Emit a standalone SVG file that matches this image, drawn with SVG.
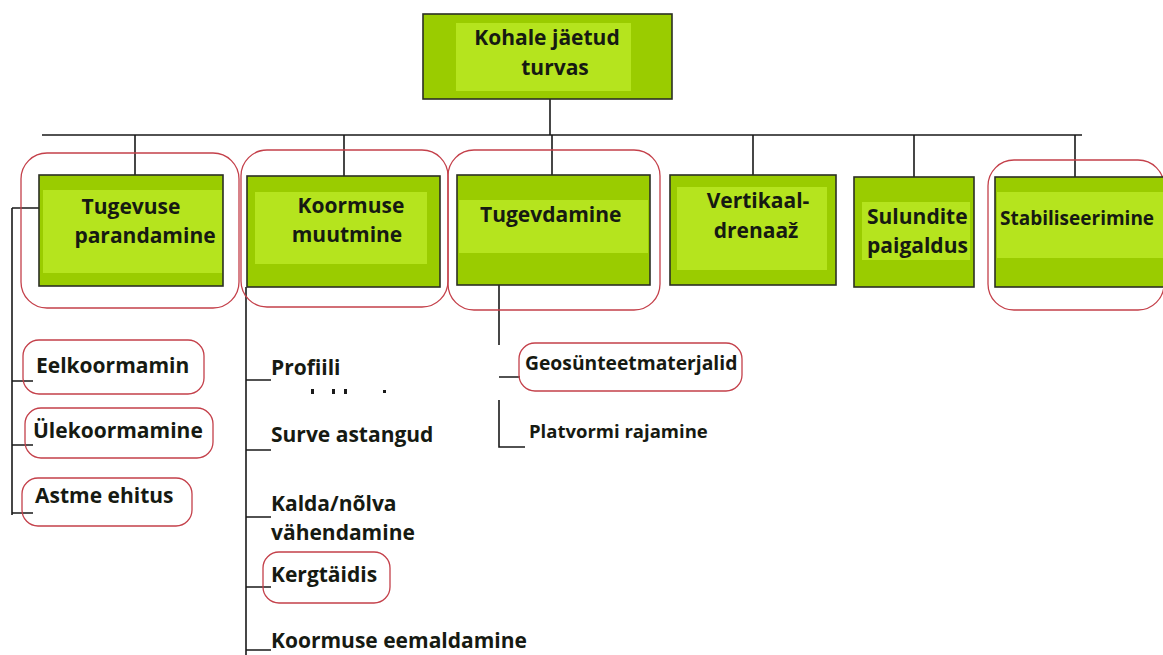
<svg xmlns="http://www.w3.org/2000/svg" width="1163" height="655" viewBox="0 0 1163 655">
<style>
.outer{fill:#9acc00;stroke:#2b2f24;stroke-width:1.6}
.inner{fill:#b5e41e}
.ring{fill:none;stroke:#c4404a;stroke-width:1.3}
.t{font-family:"Open Sans","Liberation Sans",sans-serif;font-weight:bold;font-size:21px;fill:#161a12}
.c{text-anchor:middle}
.ln{stroke:#1a1a1a;stroke-width:1.6;fill:none}
</style>
<rect width="1163" height="655" fill="#ffffff"/>
<g id="connectors" class="ln">
<path d="M550 99V135M42 135H1082M135 135V175M344 135V176M552 135V175M753 135V175M914 135V177M1075 135V177"/>
<path d="M12 208V515M12 208H39M12 381H33M12 445H33M12 513H33"/>
<path d="M246 287V655M246 380H271M246 450H271M246 517H271M246 587H271M246 650H271"/>
<path d="M499 285V345M499 377H520M499 400V447H525"/>
</g>
<g id="n-root">
<rect class="outer" x="423" y="14" width="249" height="85"/>
<rect class="inner" x="456" y="23" width="175" height="68"/>
<text class="t c" x="547" y="45">Kohale jäetud</text>
<text class="t c" x="555" y="75">turvas</text>
</g>
<g id="n-tugevuse">
<rect class="ring" x="21" y="153" width="218" height="155" rx="26"/>
<rect class="outer" x="39" y="175" width="184" height="111"/>
<rect class="inner" x="43" y="190" width="179" height="83"/>
<text class="t c" x="131" y="214">Tugevuse</text>
<text class="t c" x="145" y="243">parandamine</text>
</g>
<g id="n-koormuse">
<rect class="ring" x="241" y="150" width="207" height="157" rx="26"/>
<rect class="outer" x="247" y="176" width="193" height="111"/>
<rect class="inner" x="255" y="192" width="172" height="72"/>
<text class="t c" x="351" y="213">Koormuse</text>
<text class="t c" x="347" y="242">muutmine</text>
</g>
<g id="n-tugevdamine">
<rect class="ring" x="448" y="150" width="212" height="160" rx="26"/>
<rect class="outer" x="457" y="175" width="193" height="110"/>
<rect class="inner" x="459" y="200" width="189" height="53"/>
<text class="t" x="480" y="222">Tugevdamine</text>
</g>
<g id="n-vertikaal">
<rect class="outer" x="670" y="175" width="166" height="110"/>
<rect class="inner" x="677" y="187" width="150" height="83"/>
<text class="t c" x="758" y="208">Vertikaal-</text>
<text class="t c" x="756" y="238">drenaaž</text>
</g>
<g id="n-sulundite">
<rect class="outer" x="854" y="177" width="120" height="110"/>
<rect class="inner" x="862" y="202" width="108" height="58"/>
<text class="t" x="867" y="224">Sulundite</text>
<text class="t" x="867" y="253">paigaldus</text>
</g>
<g id="n-stabiliseerimine">
<rect class="ring" x="988" y="160" width="176" height="150" rx="26"/>
<rect class="outer" x="995" y="177" width="180" height="110"/>
<rect class="inner" x="997" y="192" width="178" height="66"/>
<text class="t" x="1000" y="225" style="font-size:19px">Stabiliseerimine</text>
</g>
<g id="n-eelkoormamin">
<rect class="ring" x="23" y="340" width="181" height="54" rx="16"/>
<text class="t" x="36" y="373">Eelkoormamin</text>
</g>
<g id="n-ulekoormamine">
<rect class="ring" x="25" y="408" width="188" height="50" rx="16"/>
<text class="t" x="33" y="438">Ülekoormamine</text>
</g>
<g id="n-astme">
<rect class="ring" x="22" y="478" width="170" height="48" rx="16"/>
<text class="t" x="35" y="503">Astme ehitus</text>
</g>
<g id="n-profiili">
<text class="t" x="271" y="375">Profiili</text>
<g fill="#1a1a1a"><rect x="311" y="389" width="3" height="5"/><rect x="332" y="389" width="3" height="5"/><rect x="344" y="389" width="3" height="5"/><rect x="383" y="390" width="3" height="3"/></g>
</g>
<g id="n-surve"><text class="t" x="271" y="442">Surve astangud</text></g>
<g id="n-kalda">
<text class="t" x="271" y="511">Kalda/nõlva</text>
<text class="t" x="271" y="540">vähendamine</text>
</g>
<g id="n-kergtaidis">
<rect class="ring" x="263" y="552" width="127" height="51" rx="16"/>
<text class="t" x="271" y="582">Kergtäidis</text>
</g>
<g id="n-eemaldamine"><text class="t" x="271" y="648">Koormuse eemaldamine</text></g>
<g id="n-geo">
<rect class="ring" x="519" y="343" width="223" height="48" rx="16"/>
<text class="t" x="525" y="370" style="font-size:19.3px">Geosünteetmaterjalid</text>
</g>
<g id="n-platvormi"><text class="t" x="529" y="438" style="font-size:18.5px">Platvormi rajamine</text></g>
</svg>
